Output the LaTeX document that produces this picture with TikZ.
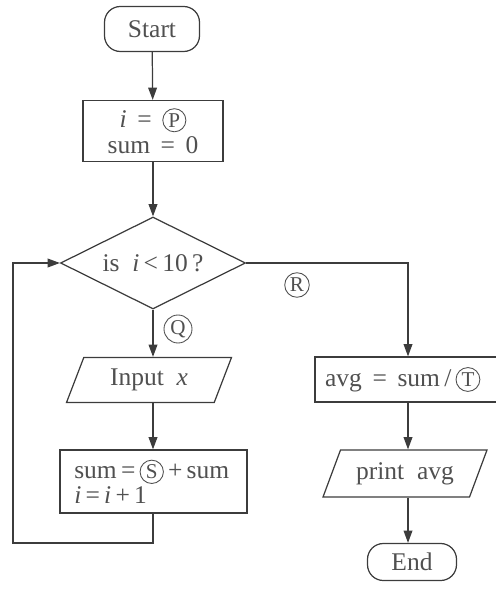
\documentclass[tikz,border=0pt]{standalone}
\usepackage{fontspec}
\setmainfont{Liberation Serif}
\usetikzlibrary{shapes.geometric, arrows.meta}
\definecolor{mydark}{RGB}{60,60,60}
\definecolor{mytext}{RGB}{80,80,80}
\newcommand{\circlett}[1]{\tikz[baseline=(cl.base), x=1cm, y=1cm]\node[shape=circle, draw=mytext, minimum width=0pt, minimum height=0pt,
  rounded corners=0pt, inner sep=1pt, outer sep=0pt, line width=0.5pt, text=mytext, align=center, text width=] (cl) {\fontsize{12}{12}\selectfont #1};}
\tikzset{
  terminal/.style={rectangle, draw=mydark, rounded corners=9pt,
    align=center, line width=0.7pt, text=mytext},
  procbox/.style={rectangle, draw=mydark, align=center,
    line width=0.7pt, text=mytext},
  iobox/.style={trapezium, draw=mydark, trapezium left angle=52,
    trapezium right angle=128, trapezium stretches body,
    line width=0.7pt, text=mytext, inner sep=0pt},
  decision/.style={diamond, draw=mydark, line width=0.7pt,
    text=mytext, inner sep=0pt, aspect=2},
  arrow/.style={-{Triangle[length=7pt, width=5pt]}, line width=0.7pt, color=mydark},
  line/.style={line width=0.7pt, color=mydark}
}

\begin{document}
\begin{tikzpicture}[x=0.02cm, y=-0.02cm, font=\fontsize{14.5}{16}\selectfont]
  \useasboundingbox (0,0) rectangle (495,590);

  % left column
  \node[terminal, minimum width=1.9cm, minimum height=0.9cm] (start) at (152,29) {Start};
  \node[procbox, minimum width=2.8cm, minimum height=1.22cm] (init) at (153,131)
    {\textit{i} \,=\, \circlett{P}\\[-1pt] sum \,=\, 0};
  \node[decision, minimum width=3.7cm, minimum height=1.84cm] (test) at (153,263) {is \ \textit{i}\,<\,10\,?};
  \node[iobox, minimum width=3.3cm, minimum height=0.9cm] (input) at (149,380) {Input \ \textit{x}};
  \node[procbox, text width=3.52cm, inner xsep=0.11cm, minimum height=1.26cm, align=left] (update) at (153.5,481.5)
    {\mbox{\hspace*{5pt}sum\,=\,\circlett{S}\,+\,sum}\\[-2pt] \hspace*{5pt}\textit{i}\,=\,\textit{i}\,+\,1};

  % right column
  \node[procbox, minimum width=3.72cm, minimum height=0.9cm] (avg) at (408,379.5) {avg \,=\, sum\,/\,\circlett{T}\hspace*{6pt}};
  \node[iobox, minimum width=3.28cm, minimum height=0.94cm] (print) at (405,473.5) {print \ avg};
  \node[terminal, minimum width=1.78cm, minimum height=0.74cm] (end) at (412,562) {End};

  \coordinate (loopL) at (13,543);

  % connectors
  \draw[arrow] (start) -- (init);
  \draw[arrow] (init) -- (test.north);
  \draw[arrow] (test.south) -- (input.north -| test.south);
  \draw[arrow] (input.south -| test.south) -- (update.north -| test.south);
  \draw[arrow] (update.south -| test.south) |- (loopL) |- (test.west);
  \draw[arrow] (test.east) -| (avg.north);
  \draw[arrow] (avg.south) -- (print.north -| avg.south);
  \draw[arrow] (print.south -| avg.south) -- (end.north -| avg.south);

  % branch labels
  \node (lblQ) at (178,329) {\circlett{Q}};
  \node (lblR) at (297,285) {\circlett{R}};
\end{tikzpicture}
\end{document}
